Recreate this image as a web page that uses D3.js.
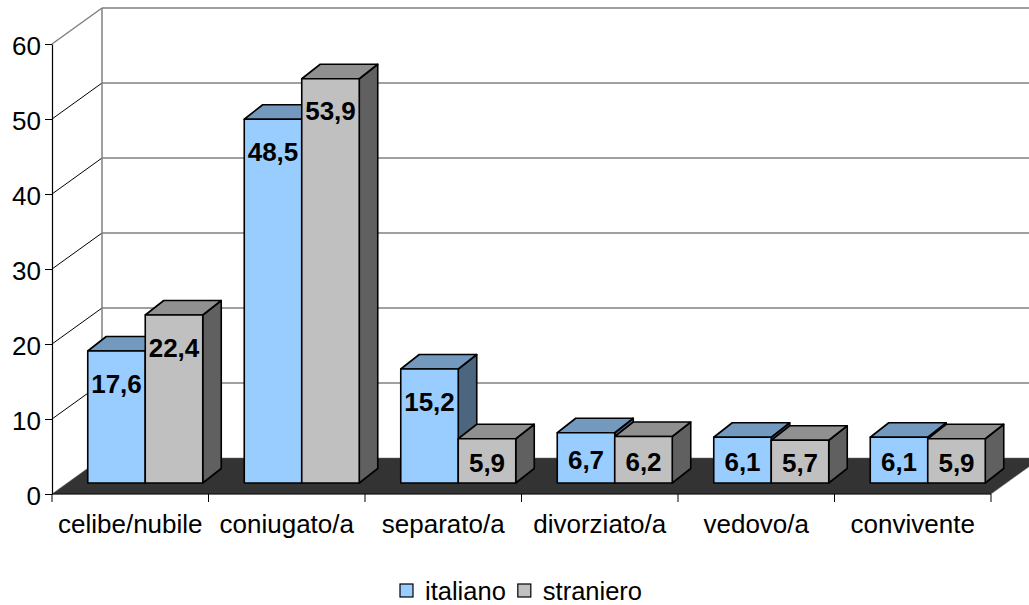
<!DOCTYPE html>
<head>
  <meta charset="utf-8">
  <script src="https://d3js.org/d3.v7.min.js"></script>
  <style>
    body { margin: 0; background: #fff; }
    text { font-family: "Liberation Sans", Arial, sans-serif; }
  </style>
</head>
<body>
  <div class="chart"></div>
  <script>
    var categories = ["celibe/nubile", "coniugato/a", "separato/a", "divorziato/a", "vedovo/a", "convivente"];
    var series = ["italiano", "straniero"];
    var italiano = [17.6, 48.5, 15.2, 6.7, 6.1, 6.1];
    var straniero = [22.4, 53.9, 5.9, 6.2, 5.7, 5.9];
    var yTicks = [0, 10, 20, 30, 40, 50, 60];

    (function() {
      var width = 1029, height = 605;

      var svg = d3.select(".chart")
        .append("svg")
        .attr("width", width)
        .attr("height", height);

      // 3d offsets: full floor depth and the bars' own depth
      var depthX = 50, depthY = 36;
      var frontX = 15, frontY = 11;   // bars' front plane inside the floor
      var barDX = 18.5, barDY = 14.5;

      var x = d3.scaleBand().domain(categories).range([52, 991]);
      var xs = d3.scaleBand().domain(series).range([20.75, x.bandwidth() - 20.75]);
      var y = d3.scaleLinear().domain([0, 60]).range([494, 44]);

      var colors = {
        italiano:  { front: "#99ccff", top: "#7399bf", side: "#4d6680" },
        straniero: { front: "#c0c0c0", top: "#909090", side: "#606060" }
      };

      // back wall gridlines
      svg.append("g").selectAll("line")
        .data(yTicks.slice(1))
        .enter().append("line")
        .attr("x1", 52 + depthX).attr("x2", width)
        .attr("y1", function(d) { return y(d) - depthY; })
        .attr("y2", function(d) { return y(d) - depthY; })
        .attr("stroke", "#808080").attr("stroke-width", 1.5);

      // side wall diagonals
      svg.append("g").selectAll("line")
        .data(yTicks.slice(1))
        .enter().append("line")
        .attr("x1", 52).attr("x2", 52 + depthX)
        .attr("y1", function(d) { return y(d); })
        .attr("y2", function(d) { return y(d) - depthY; })
        .attr("stroke", function(d) { return d === 60 ? "#808080" : "#000"; })
        .attr("stroke-width", function(d) { return d === 60 ? 1.5 : 1; });

      svg.append("line")
        .attr("x1", 52 + depthX).attr("x2", 52 + depthX)
        .attr("y1", y(60) - depthY).attr("y2", y(0) - depthY)
        .attr("stroke", "#808080").attr("stroke-width", 1.5);

      // floor
      svg.append("polygon")
        .attr("points", [
          [52, y(0)], [991, y(0)], [991 + depthX, y(0) - depthY], [52 + depthX, y(0) - depthY]
        ].map(function(p) { return p.join(","); }).join(" "))
        .attr("fill", "#333333")
        .attr("stroke", "#666").attr("stroke-width", 0.5);

      // bars
      var bars = [];
      categories.forEach(function(c, i) {
        bars.push({ cat: c, s: "italiano", v: italiano[i] });
        bars.push({ cat: c, s: "straniero", v: straniero[i] });
      });

      function pts(a) { return a.map(function(p) { return p.join(","); }).join(" "); }

      var g = svg.append("g");
      bars.forEach(function(d) {
        var x0 = x(d.cat) + xs(d.s) + frontX;
        var x1 = x0 + xs.bandwidth();
        var yb = y(0) - frontY;
        var yt = y(d.v) - frontY;
        var col = colors[d.s];
        var bar = g.append("g").attr("stroke", "#000").attr("stroke-width", 1.6)
          .attr("stroke-linejoin", "round");
        bar.append("polygon")
          .attr("points", pts([[x1, yt], [x1 + barDX, yt - barDY], [x1 + barDX, yb - barDY], [x1, yb]]))
          .attr("fill", col.side);
        bar.append("polygon")
          .attr("points", pts([[x0, yt], [x0 + barDX, yt - barDY], [x1 + barDX, yt - barDY], [x1, yt]]))
          .attr("fill", col.top);
        bar.append("rect")
          .attr("x", x0).attr("y", yt)
          .attr("width", x1 - x0).attr("height", yb - yt)
          .attr("fill", col.front);
        var lv = Math.max(d.v - 4.3, d.v * 0.47);
        g.append("text")
          .attr("x", (x0 + x1) / 2)
          .attr("y", y(lv) - frontY)
          .attr("dy", "0.36em")
          .attr("text-anchor", "middle")
          .attr("font-size", 26)
          .attr("font-weight", "bold")
          .text(String(d.v).replace(".", ","));
      });

      // y axis
      var yAxis = svg.append("g")
        .attr("transform", "translate(52,0)")
        .call(d3.axisLeft(y).tickValues(yTicks).tickSize(7).tickSizeOuter(0).tickPadding(4));
      yAxis.select(".domain").attr("stroke", "#000").attr("stroke-width", 1.2);
      yAxis.selectAll(".tick line").attr("stroke", "#000");
      yAxis.selectAll("text").attr("font-size", 26).attr("fill", "#000")
        .attr("dy", "0.4em")
        .style("font-family", "'Liberation Sans', Arial, sans-serif");

      // x axis
      svg.append("line")
        .attr("x1", 52).attr("x2", 991).attr("y1", y(0)).attr("y2", y(0))
        .attr("stroke", "#000").attr("stroke-width", 1);
      svg.append("g").selectAll("line")
        .data(d3.range(categories.length + 1))
        .enter().append("line")
        .attr("x1", function(k) { return 52 + k * x.step(); })
        .attr("x2", function(k) { return 52 + k * x.step(); })
        .attr("y1", y(0)).attr("y2", y(0) + 8)
        .attr("stroke", "#000");
      svg.append("g").selectAll("text")
        .data(categories)
        .enter().append("text")
        .attr("x", function(d) { return x(d) + x.bandwidth() / 2; })
        .attr("y", 533)
        .attr("text-anchor", "middle")
        .attr("font-size", 26)
        .text(function(d) { return d; });

      // legend
      var lx = 400;
      series.forEach(function(s) {
        svg.append("rect")
          .attr("x", lx).attr("y", 584)
          .attr("width", 13).attr("height", 13)
          .attr("fill", colors[s].front)
          .attr("stroke", "#000").attr("stroke-width", 1.2);
        var t = svg.append("text")
          .attr("x", lx + 25).attr("y", 600)
          .attr("font-size", 25.5)
          .text(s);
        lx += 25 + t.node().getComputedTextLength() + 12;
      });
    })();
  </script>
</body>
